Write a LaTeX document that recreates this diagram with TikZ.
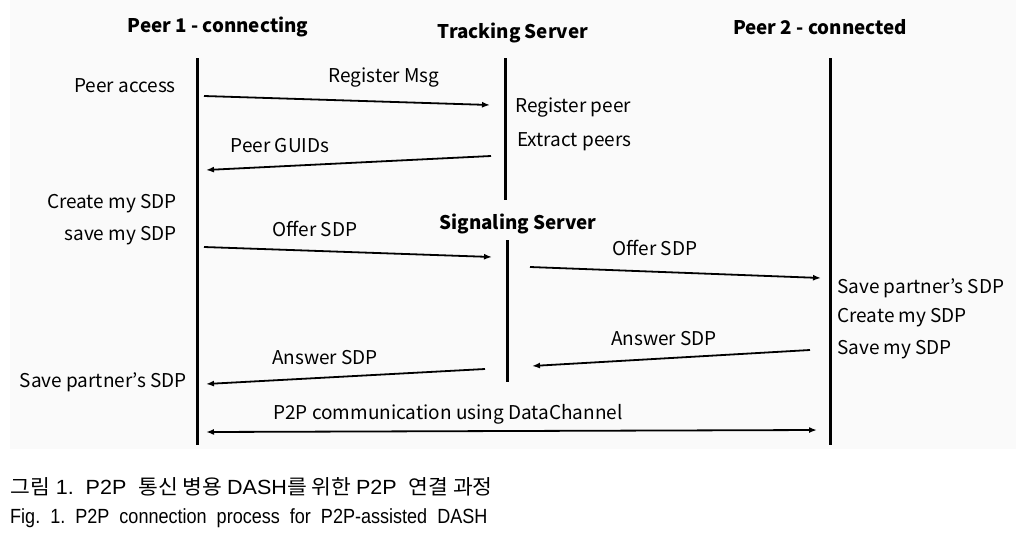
\documentclass[tikz,border=0pt]{standalone}
\usepackage{fontspec}
\setmainfont{Noto Sans CJK KR}
\newfontfamily\capfont{Liberation Sans}
\newfontfamily\kofont{Noto Sans CJK KR}
\usetikzlibrary{arrows.meta}
\definecolor{bgc}{RGB}{250,250,250}
\begin{document}
\begin{tikzpicture}[x=1pt,y=-1pt,
 lbl/.style={font=\fontsize{19}{22}\selectfont, inner sep=0pt},
 ttl/.style={font=\bfseries\fontsize{18.8}{22}\selectfont, inner sep=0pt},
 captxt/.style={font=\fontsize{20.5}{24}\selectfont, inner sep=0pt, anchor=west},
 life/.style={line width=3pt},
 msg/.style={line width=1.8pt, -{Latex[length=8pt,width=6pt]}},
 bimsg/.style={line width=1.8pt, {Latex[length=8pt,width=6pt]}-{Latex[length=8pt,width=6pt]}},
]
\useasboundingbox (0,0) rectangle (1022,533);
\fill[bgc] (10,0) rectangle (1016,449);

% titles
\node[ttl] (p1t) at (218,27) {Peer 1 - connecting};
\node[ttl] (tst) at (513,33) {Tracking Server};
\node[ttl] (p2t) at (820,27) {Peer 2 - connected};
\node[ttl] (sst) at (518,224) {Signaling Server};

% lifelines
\coordinate (p1a) at (197,58); \coordinate (p1b) at (197,445);
\coordinate (tsa) at (505,58); \coordinate (tsb) at (505,200);
\coordinate (ssa) at (507,240); \coordinate (ssb) at (507,382);
\coordinate (p2a) at (830,58); \coordinate (p2b) at (830,445);
\draw[life] (p1a) -- (p1b);
\draw[life] (tsa) -- (tsb);
\draw[life] (ssa) -- (ssb);
\draw[life] (p2a) -- (p2b);

% messages
\coordinate (m1s) at (204,96);  \coordinate (m1e) at (490,105);
\coordinate (m2s) at (491,156); \coordinate (m2e) at (206,170);
\coordinate (m3s) at (204,247); \coordinate (m3e) at (492,257);
\coordinate (m4s) at (530,267); \coordinate (m4e) at (821,278);
\coordinate (m5s) at (810,350); \coordinate (m5e) at (532,366);
\coordinate (m6s) at (485,369); \coordinate (m6e) at (206,384);
\coordinate (m7s) at (206,432); \coordinate (m7e) at (817,430);
\draw[msg] (m1s) -- (m1e);
\draw[msg] (m2s) -- (m2e);
\draw[msg] (m3s) -- (m3e);
\draw[msg] (m4s) -- (m4e);
\draw[msg] (m5s) -- (m5e);
\draw[msg] (m6s) -- (m6e);
\draw[bimsg] (m7s) -- (m7e);

\node[lbl] (l1) at (384,78) {Register Msg};
\node[lbl] (l2) at (280,146) {Peer GUIDs};
\node[lbl] (l3) at (315,229) {Offer SDP};
\node[lbl] (l4) at (655,248) {Offer SDP};
\node[lbl] (l5) at (664,339) {Answer SDP};
\node[lbl] (l6) at (325,358) {Answer SDP};
\node[lbl] (l7) at (448,414) {P2P communication using DataChannel};

% side notes
\node[lbl, anchor=east] (n1) at (176,86) {Peer access};
\node[lbl, anchor=east] (n2) at (177,204) {Create my SDP};
\node[lbl, anchor=east] (n3) at (177,236) {save my SDP};
\node[lbl, anchor=east] (n4) at (187,382) {Save partner’s SDP};
\node[lbl, anchor=west] (n5) at (515,108) {Register peer};
\node[lbl, anchor=west] (n6) at (517,142) {Extract peers};
\node[lbl, anchor=west] (n7) at (837,288) {Save partner’s SDP};
\node[lbl, anchor=west] (n8) at (837,318) {Create my SDP};
\node[lbl, anchor=west] (n9) at (837,350) {Save my SDP};

% caption
\node[captxt] (c1) at (10,487) {\scalebox{1.05}[1]{\kofont 그림\capfont~1.~~P2P~~\kofont 통신 병용 \capfont DASH\kofont 를 위한 \capfont P2P~~\kofont 연결 과정}};
\node[captxt] (c2) at (10,518) {\capfont\scalebox{0.88}[1]{Fig.~~1.~~P2P~~connection~~process~~for~~P2P-assisted~~DASH}};
\end{tikzpicture}
\end{document}
